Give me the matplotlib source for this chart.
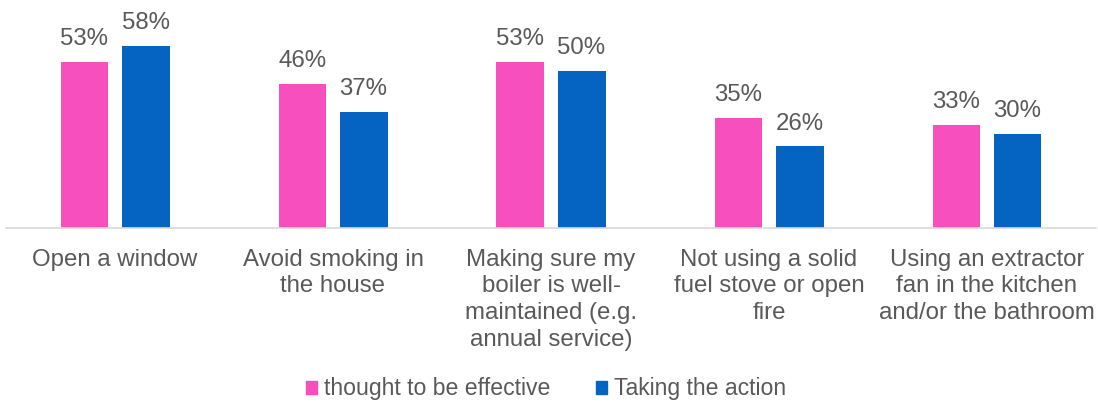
import matplotlib
matplotlib.use("Agg")
import matplotlib.pyplot as plt
from matplotlib.patches import Patch
import numpy as np

categories = [
    "Open a window",
    "Avoid smoking in\nthe house",
    "Making sure my\nboiler is well-\nmaintained (e.g.\nannual service)",
    "Not using a solid\nfuel stove or open\nfire",
    "Using an extractor\nfan in the kitchen\nand/or the bathroom",
]
series_names = ["thought to be effective", "Taking the action"]
effective = [53, 46, 53, 35, 33]
action = [58, 37, 50, 26, 30]

pink = "#F84FBF"
blue = "#0563C1"
grey = "#595959"
fs = 17.3
plt.rcParams["font.family"] = ["Liberation Sans", "DejaVu Sans"]

fig = plt.figure(figsize=(10.98, 4.05), dpi=100)
ax = fig.add_axes([6 / 1098, 1 - 228 / 405, 1090 / 1098, 228 / 405])
x = np.arange(len(categories))
w = 0.22
off = 0.14
b1 = ax.bar(x - off, effective, w, color=pink)
b2 = ax.bar(x + off, action, w, color=blue)
for bars, vals in ((b1, effective), (b2, action)):
    for r, v in zip(bars, vals):
        ax.annotate(f"{v}%", (r.get_x() + r.get_width() / 2, r.get_height()),
                    xytext=(0, 12.2), textcoords="offset points",
                    ha="center", va="baseline", fontsize=fs, color=grey)

ax.set_xlim(-0.5, 4.5)
ax.set_ylim(0, 228 / 3.135)
ax.set_yticks([])
ax.set_xticks([])
for s in ("top", "left", "right"):
    ax.spines[s].set_visible(False)
ax.spines["bottom"].set_color("#D9D9D9")
ax.spines["bottom"].set_linewidth(1.2)

for xi, lab in zip(x, categories):
    ax.annotate(lab, (xi, 0), xytext=(0, -14.8), textcoords="offset points",
                ha="center", va="top", fontsize=fs, color=grey,
                linespacing=1.29, annotation_clip=False)

handles = [Patch(color=pink), Patch(color=blue)]
leg = fig.legend(handles, series_names, loc="center", bbox_to_anchor=(546 / 1098, 1 - 389 / 405),
                 ncol=2, frameon=False, fontsize=16.6, handlelength=0.48, handleheight=0.48,
                 handletextpad=0.3, columnspacing=2.0)
for t in leg.get_texts():
    t.set_color(grey)

fig.savefig("out.png", dpi=100)
